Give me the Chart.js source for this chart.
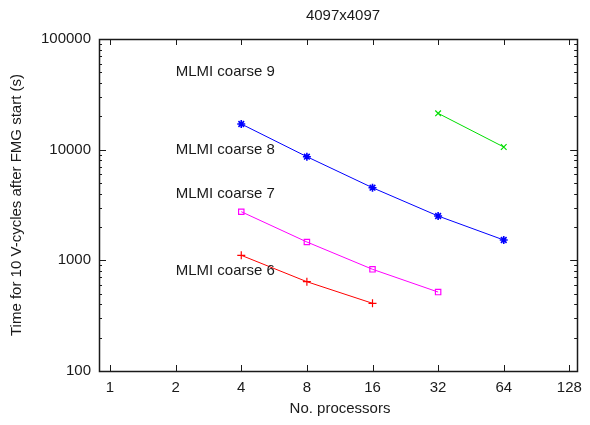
<!DOCTYPE html>
<html>
<head>
<meta charset="utf-8">
<script src="https://cdn.jsdelivr.net/npm/chart.js@4/dist/chart.umd.min.js"></script>
<style>
body { margin: 0; background: #fff; }
</style>
</head>
<body>
<canvas id="chart" width="590" height="425"></canvas>
<script>
const procTicks = [1, 2, 4, 8, 16, 32, 64, 128]
const timeTicks = [100, 1000, 10000, 100000]

const procs6 = [4, 8, 16]
const time6 = [1110, 641, 409]
const procs7 = [4, 8, 16, 32]
const time7 = [2750, 1465, 830, 517]
const procs8 = [4, 8, 16, 32, 64]
const time8 = [17060, 8640, 4530, 2515, 1527]
const procs9 = [32, 64]
const time9 = [21300, 10570]

const labelText = ['MLMI coarse 9', 'MLMI coarse 8', 'MLMI coarse 7', 'MLMI coarse 6']
const labelX = [2, 2, 2, 2]
const labelY = [50000, 10000, 4000, 800]

const FONT = "'Liberation Sans', Arial, sans-serif"
const INK = '#1a1a1a'

function series(name, xs, ys, color, style) {
	return {
		label: name,
		data: xs.map((x, i) => ({ x: x, y: ys[i] })),
		showLine: true,
		borderColor: color,
		backgroundColor: 'transparent',
		borderWidth: 1,
		pointStyle: style,
		pointRadius: style === 'rect' ? 3.8 : 4,
		pointBorderColor: color,
		pointBorderWidth: style === 'star' ? 1.6 : 1.2,
		pointBackgroundColor: 'transparent'
	}
}

// frame, inward ticks, labels and titles in the gnuplot manner
const frame = {
	id: 'frame',
	afterDraw(chart) {
		const ctx = chart.ctx
		const a = chart.chartArea
		const xs = chart.scales.x
		const ys = chart.scales.y
		ctx.save()
		ctx.strokeStyle = INK
		ctx.lineWidth = 1
		ctx.beginPath()
		for (const v of procTicks) {
			const px = Math.round(xs.getPixelForValue(v)) + 0.5
			ctx.moveTo(px, a.bottom); ctx.lineTo(px, a.bottom - 6)
			ctx.moveTo(px, a.top); ctx.lineTo(px, a.top + 6)
		}
		for (let d = 100; d <= 100000; d *= 10) {
			for (let m = 1; m < 10; m++) {
				const v = d * m
				if (v > 100000) break
				const py = Math.round(ys.getPixelForValue(v)) + 0.5
				const len = m === 1 ? 7 : 3
				ctx.moveTo(a.left, py); ctx.lineTo(a.left + len, py)
				ctx.moveTo(a.right, py); ctx.lineTo(a.right - len, py)
			}
		}
		ctx.stroke()
		ctx.lineWidth = 1.5
		ctx.strokeRect(Math.round(a.left) + 0.5, Math.round(a.top) + 0.5,
			Math.round(a.right - a.left), Math.round(a.bottom - a.top))

		ctx.fillStyle = INK
		ctx.font = '15px ' + FONT
		ctx.textBaseline = 'middle'
		ctx.textAlign = 'left'
		labelText.forEach((t, i) => {
			ctx.fillText(t, xs.getPixelForValue(labelX[i]), ys.getPixelForValue(labelY[i]))
		})
		ctx.textAlign = 'center'
		ctx.fillText('4097x4097', 343, 16)
		ctx.fillText('No. processors', 340, 409)
		ctx.translate(17, (a.top + a.bottom) / 2)
		ctx.rotate(-Math.PI / 2)
		ctx.fillText('Time for 10 V-cycles after FMG start (s)', 0, 0)
		ctx.restore()
	}
}

new Chart(document.getElementById('chart'), {
	type: 'scatter',
	data: {
		datasets: [
			series('MLMI coarse 6', procs6, time6, '#ff0000', 'cross'),
			series('MLMI coarse 9', procs9, time9, '#00dd00', 'crossRot'),
			series('MLMI coarse 8', procs8, time8, '#0000ff', 'star'),
			series('MLMI coarse 7', procs7, time7, '#ff00ff', 'rect')
		]
	},
	options: {
		responsive: false,
		animation: false,
		layout: { padding: { top: 39, right: 8, left: 0, bottom: 0 } },
		plugins: { legend: { display: false }, tooltip: { enabled: false } },
		scales: {
			x: {
				type: 'logarithmic',
				min: 0.89,
				max: 139,
				bounds: 'data',
				afterBuildTicks: s => { s.ticks = procTicks.map(v => ({ value: v })) },
				afterFit: s => { s.height = 54 },
				grid: { display: false, drawTicks: false },
				border: { display: false },
				ticks: {
					callback: v => String(v),
					autoSkip: false, maxRotation: 0, padding: 8,
					color: INK, font: { family: FONT, size: 15 }
				}
			},
			y: {
				type: 'logarithmic',
				min: 100,
				max: 100000,
				bounds: 'data',
				afterBuildTicks: s => { s.ticks = timeTicks.map(v => ({ value: v })) },
				afterFit: s => { s.width = 99 },
				grid: { display: false, drawTicks: false },
				border: { display: false },
				ticks: {
					callback: v => String(v),
					autoSkip: false, padding: 8,
					color: INK, font: { family: FONT, size: 15 }
				}
			}
		}
	},
	plugins: [frame]
})
</script>
</body>
</html>
